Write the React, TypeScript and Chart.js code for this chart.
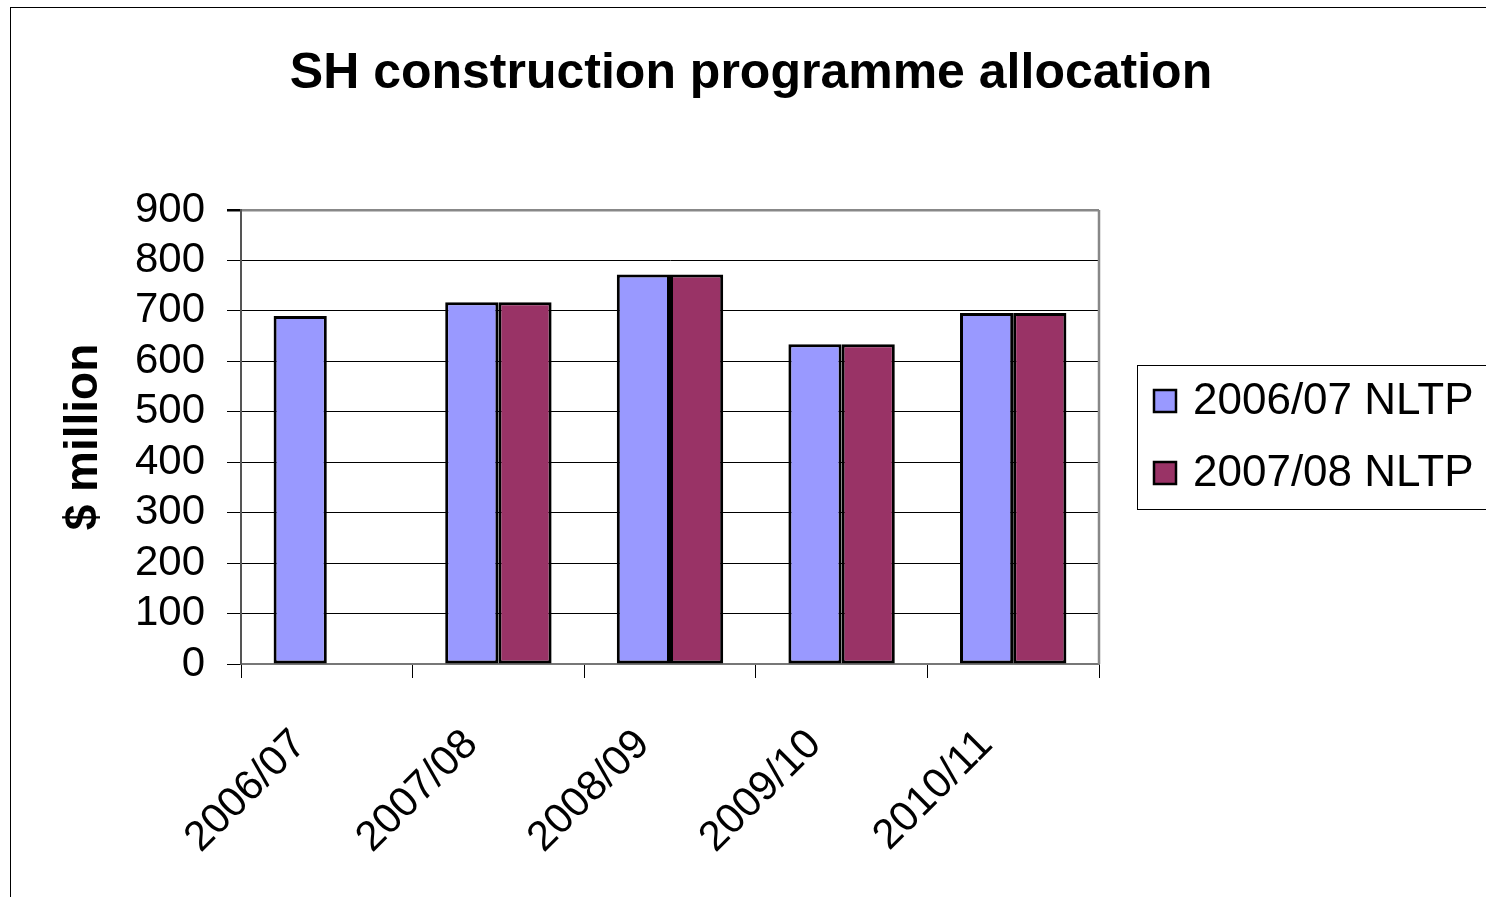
import React, { useEffect, useRef } from "react";
import { Chart, registerables } from "chart.js";

Chart.register(...registerables);

const categories = ["2006/07", "2007/08", "2008/09", "2009/10", "2010/11"];
const nltp0607 = [690, 717, 772, 634, 696];
const nltp0708: (number | null)[] = [null, 717, 772, 634, 696];
const seriesLabels = ["2006/07 NLTP", "2007/08 NLTP"];
const chartTitle = "SH construction programme allocation";
const yTitle = "$ million";

const FONT = "'Liberation Sans', Arial, Helvetica, sans-serif";

const legendPlugin = {
  id: "boxLegend",
  afterDraw(chart: any) {
    const { ctx, chartArea } = chart;
    const boxLeft = chartArea.right + 38;
    const boxW = 349;
    const boxH = 144;
    const cy = (chartArea.top + chartArea.bottom) / 2;
    const boxTop = cy - boxH / 2;
    ctx.save();
    ctx.fillStyle = "#fff";
    ctx.fillRect(boxLeft, boxTop, boxW, boxH);
    ctx.strokeStyle = "#000";
    ctx.lineWidth = 1;
    ctx.strokeRect(boxLeft + 0.5, boxTop + 0.5, boxW, boxH);
    ctx.font = `44px ${FONT}`;
    ctx.textBaseline = "middle";
    ctx.textAlign = "left";
    chart.data.datasets.forEach((ds: any, i: number) => {
      const iy = boxTop + 36 + i * 72;
      ctx.fillStyle = ds.backgroundColor;
      ctx.fillRect(boxLeft + 17, iy - 11, 22, 22);
      ctx.lineWidth = 2.5;
      ctx.strokeStyle = "#000";
      ctx.strokeRect(boxLeft + 17, iy - 11, 22, 22);
      ctx.fillStyle = "#000";
      ctx.fillText(ds.label, boxLeft + 56, iy + 1);
    });
    ctx.restore();
  },
};

const framePlugin = {
  id: "plotFrame",
  afterDraw(chart: any) {
    const { ctx, chartArea } = chart;
    ctx.save();
    ctx.strokeStyle = "#888";
    ctx.lineWidth = 2.5;
    ctx.beginPath();
    ctx.moveTo(chartArea.right, chartArea.top);
    ctx.lineTo(chartArea.right, chartArea.bottom);
    ctx.stroke();
    ctx.restore();
  },
};

export default function App() {
  const canvasRef = useRef<HTMLCanvasElement | null>(null);

  useEffect(() => {
    if (!canvasRef.current) return;
    const chart = new Chart(canvasRef.current, {
      type: "bar",
      data: {
        labels: categories,
        datasets: [
          {
            label: seriesLabels[0],
            data: nltp0607,
            backgroundColor: "#9999FF",
            borderColor: "#000",
            borderWidth: 3,
            borderSkipped: false,
          },
          {
            label: seriesLabels[1],
            data: nltp0708,
            backgroundColor: "#993366",
            borderColor: "#000",
            borderWidth: 3,
            borderSkipped: false,
          },
        ],
      },
      options: {
        animation: false,
        responsive: false,
        maintainAspectRatio: false,
        datasets: {
          bar: { categoryPercentage: 0.62, barPercentage: 1 },
        },
        layout: { padding: 0 },
        plugins: {
          legend: { display: false },
          tooltip: { enabled: false },
          title: {
            display: true,
            text: chartTitle,
            color: "#000",
            align: "center",
            font: { family: FONT, size: 50, weight: "bold", lineHeight: 1.2 },
            padding: { top: 36, bottom: 106 },
          },
        },
        scales: {
          x: {
            grid: {
              offset: true,
              drawOnChartArea: false,
              drawTicks: true,
              tickLength: 14,
              tickColor: "#000",
              lineWidth: 1,
            },
            border: { display: true, color: "#777", width: 2 },
            ticks: {
              color: "#000",
              font: { family: FONT, size: 42 },
              maxRotation: 45,
              minRotation: 45,
              padding: 42,
              labelOffset: -27,
              autoSkip: false,
            },
            afterFit: (scale: any) => {
              scale.height = 236;
            },
          },
          y: {
            min: 0,
            max: 900,
            ticks: {
              stepSize: 100,
              autoSkip: false,
              color: "#000",
              font: { family: FONT, size: 42 },
              padding: 22,
            },
            grid: {
              color: (c: any) => (c.tick && c.tick.value === 900 ? "#888" : "#000"),
              lineWidth: (c: any) => (c.tick && c.tick.value === 900 ? 2.5 : 1),
              tickColor: "#000",
              tickLength: 14,
            },
            border: { display: true, color: "#555", width: 2 },
            title: {
              display: true,
              text: yTitle,
              color: "#000",
              font: { family: FONT, size: 46, weight: "bold", lineHeight: 1.2 },
              padding: { top: 46, bottom: 0 },
            },
            afterFit: (scale: any) => {
              scale.width = 230;
            },
          },
          legendSpace: {
            type: "linear",
            position: "right",
            display: true,
            grid: { display: false, drawTicks: false },
            border: { display: false },
            ticks: { display: false },
            afterFit: (scale: any) => {
              scale.width = 392;
            },
          },
        },
      },
      plugins: [legendPlugin, framePlugin],
    } as any);
    return () => chart.destroy();
  }, []);

  return (
    <div
      style={{
        position: "fixed",
        left: 10,
        top: 7,
        width: 1480,
        height: 892,
        borderLeft: "1px solid #000",
        borderTop: "1px solid #000",
        background: "#fff",
      }}
    >
      <canvas
        ref={canvasRef}
        width={1480}
        height={892}
        style={{ display: "block", width: 1480, height: 892 }}
      />
    </div>
  );
}
